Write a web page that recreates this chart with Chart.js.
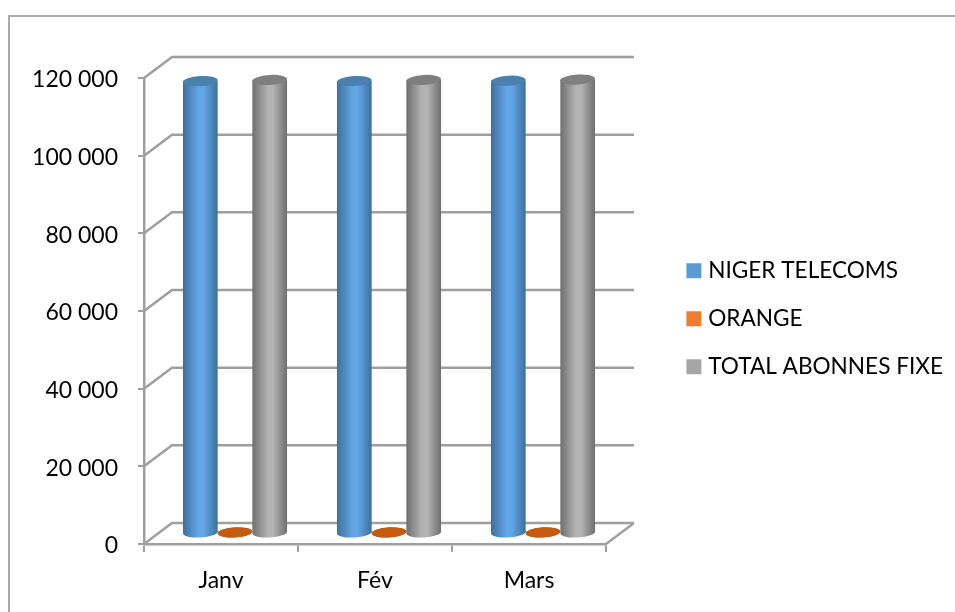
<!DOCTYPE html>
<html>
<head>
<meta charset="utf-8">
<script src="https://cdn.jsdelivr.net/npm/chart.js@4"></script>
<style>
    body { margin: 0; background: #fff; }
    #cadre { position: absolute; left: 8px; top: 15px; right: 0; bottom: 0; border: 2px solid #ababab; border-right: 0; border-bottom: 0; }
    canvas { position: absolute; left: 0; top: 0; }
</style>
</head>
<body>
<div id="cadre"></div>
<canvas id="grafico" width="955" height="612"></canvas>
<script>
const mois = ['Janv', 'Fév', 'Mars']
const nigerTelecoms = [116500, 116500, 116600]
const orange = [300, 300, 300]
const totalAbonnes = [116800, 116800, 116900]

// decalage du fond en pseudo 3D
const dx = 28
const dy = 21
const largeurBarre = 34.7

const couleurLigne = '#9f9f9f'
const styles = [
    { plat: '#5b9bd5', bord: '#3f6f9c', clair: '#62a6e6', haut: '#4a7fae' },
    { plat: '#ed7d31', bord: '#c55a11', clair: '#c55a11', haut: '#c55a11' },
    { plat: '#a5a5a5', bord: '#6f6f6f', clair: '#b3b3b3', haut: '#7f7f7f' }
]

function degrade(chart, x, s) {
    const g = chart.ctx.createLinearGradient(x - largeurBarre / 2, 0, x + largeurBarre / 2, 0)
    g.addColorStop(0, s.bord)
    g.addColorStop(0.45, s.clair)
    g.addColorStop(0.6, s.clair)
    g.addColorStop(1, s.bord)
    return g
}

function couleurBarre(indice) {
    return function (context) {
        if (context.dataIndex === undefined || !context.chart.scales.x) return styles[indice].plat
        const x = context.chart.scales.x.getPixelForValue(context.dataIndex) + (indice - 1) * largeurBarre
        if (!Number.isFinite(x)) return styles[indice].plat
        return degrade(context.chart, x, styles[indice])
    }
}

const fond3d = {
    id: 'fond3d',
    afterLayout(chart) {
        // place la legende a droite du graphique
        chart.legend.left = 665.5
        chart.legend.right = 955
        chart.legend.top = 234
        chart.legend.bottom = 612
    },
    beforeDatasetsDraw(chart) {
        const ctx = chart.ctx
        const y = chart.scales.y
        const area = chart.chartArea
        ctx.save()
        ctx.strokeStyle = couleurLigne
        ctx.lineWidth = 2.5
        y.ticks.forEach(function (t) {
            const py = y.getPixelForValue(t.value)
            ctx.beginPath()
            ctx.moveTo(area.left, py)
            ctx.lineTo(area.left + dx, py - dy)
            ctx.lineTo(area.right + dx, py - dy)
            ctx.stroke()
        })
        const py0 = y.getPixelForValue(0)
        ctx.beginPath()
        ctx.moveTo(area.right, py0)
        ctx.lineTo(area.right + dx, py0 - dy)
        ctx.stroke()
        ctx.restore()

        // les barres sont au milieu du sol
        ctx.save()
        ctx.translate(dx / 2, -dy / 2)
        chart.getSortedVisibleDatasetMetas().forEach(function (meta) {
            meta.data.forEach(function (barra) {
                ctx.fillStyle = degrade(chart, barra.x, styles[meta.index])
                ctx.beginPath()
                ctx.ellipse(barra.x, barra.base, largeurBarre / 2, 5, -0.06, 0, Math.PI * 2)
                ctx.fill()
            })
        })
    },
    afterDatasetsDraw(chart) {
        const ctx = chart.ctx
        chart.getSortedVisibleDatasetMetas().forEach(function (meta) {
            meta.data.forEach(function (barra) {
                ctx.fillStyle = styles[meta.index].haut
                ctx.beginPath()
                ctx.ellipse(barra.x, barra.y, largeurBarre / 2, 5, -0.06, 0, Math.PI * 2)
                ctx.fill()
            })
        })
        ctx.restore()
    }
}

Chart.defaults.font.family = 'Lato'

new Chart(document.getElementById('grafico'), {
    type: 'bar',
    data: {
        labels: mois,
        datasets: [
            { label: 'NIGER TELECOMS', data: nigerTelecoms, backgroundColor: couleurBarre(0) },
            { label: 'ORANGE', data: orange, backgroundColor: couleurBarre(1) },
            { label: 'TOTAL ABONNES FIXE', data: totalAbonnes, backgroundColor: couleurBarre(2) }
        ]
    },
    options: {
        responsive: false,
        animation: false,
        clip: false,
        categoryPercentage: 0.676,
        barPercentage: 1,
        layout: { padding: { top: 78, right: 349, left: 0, bottom: 0 } },
        plugins: {
            legend: {
                position: 'chartArea',
                align: 'start',
                labels: {
                    color: '#000',
                    font: { size: 22.6 },
                    boxWidth: 6,
                    boxHeight: 6,
                    padding: 25.4,
                    generateLabels(chart) {
                        return Chart.defaults.plugins.legend.labels.generateLabels(chart).map(function (item) {
                            item.lineWidth = 9
                            item.fillStyle = styles[item.datasetIndex].plat
                            item.strokeStyle = item.fillStyle
                            return item
                        })
                    }
                }
            },
            tooltip: { enabled: false }
        },
        scales: {
            x: {
                afterFit(scale) { scale.height = 68 },
                grid: { drawOnChartArea: false, color: couleurLigne, lineWidth: 2, tickLength: 8 },
                border: { color: couleurLigne, width: 2.5 },
                ticks: { color: '#000', font: { size: 23 }, padding: 15, maxRotation: 0 }
            },
            y: {
                min: 0,
                max: 120000,
                afterFit(scale) { scale.width = 144 },
                grid: { drawOnChartArea: false, color: couleurLigne, lineWidth: 2, tickLength: 6 },
                border: { color: couleurLigne, width: 2.5 },
                ticks: {
                    color: '#000',
                    font: { size: 23 },
                    padding: 20,
                    labelOffset: 2,
                    stepSize: 20000,
                    callback: function (v) { return String(v).replace(/\B(?=(\d{3})+$)/g, ' ') }
                }
            }
        }
    },
    plugins: [fond3d]
})
</script>
</body>
</html>
